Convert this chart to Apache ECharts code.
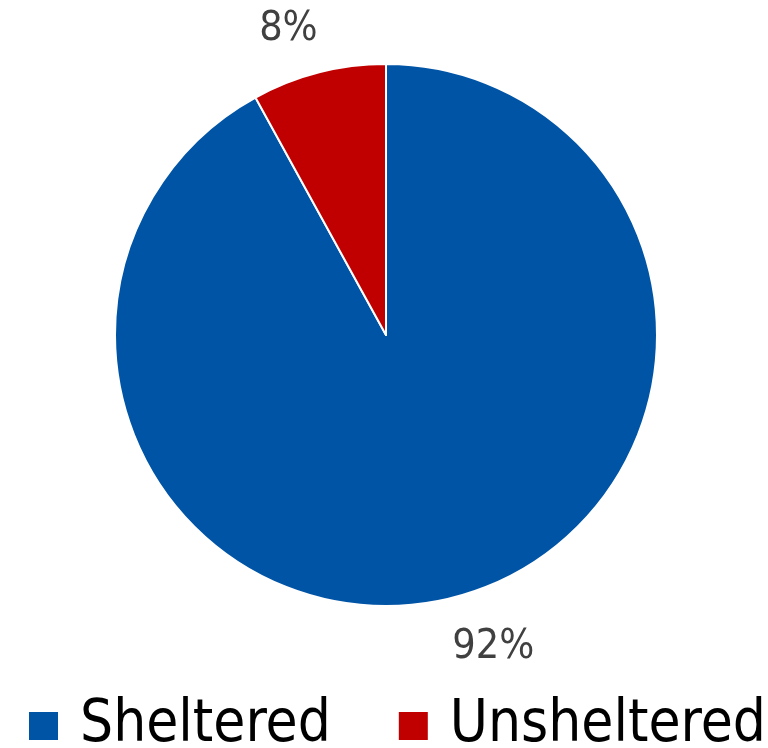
<!DOCTYPE html>
<html>
<head>
<meta charset="utf-8">
<script src="https://cdn.jsdelivr.net/npm/echarts@6/dist/echarts.min.js"></script>
<style>
  html, body { margin: 0; padding: 0; background: #fff; }
  #chart { width: 768px; height: 748px; }
</style>
</head>
<body>
<div id="chart"></div>
<script>
const categories = ["Sheltered", "Unsheltered"];
const shares = [92, 8];
const colors = ["#0054A6", "#C00000"];

const FONT = "'DejaVu Sans Condensed', 'DejaVu Sans', sans-serif";

const chart = echarts.init(document.getElementById("chart"));

const labelShift = { Sheltered: [-16, 11], Unsheltered: [14, -4] };

chart.setOption({
  animation: false,
  legend: {
    top: 697,
    left: 27,
    padding: 0,
    itemWidth: 31,
    itemHeight: 30,
    itemGap: 66,
    icon: "rect",
    textStyle: { fontSize: 58, color: "#000", fontFamily: FONT, padding: [0, 0, 0, 16] },
    data: categories,
  },
  series: [
    {
      type: "pie",
      center: [386, 335],
      radius: 271,
      startAngle: 90,
      clockwise: true,
      itemStyle: { borderColor: "#fff", borderWidth: 2 },
      label: {
        show: true,
        position: "outside",
        formatter: "{c}%",
        fontSize: 41,
        color: "#404040",
        fontFamily: FONT,
      },
      labelLine: { show: false, length: 40, length2: 0 },
      labelLayout: (params) => {
        const s = labelShift[categories[params.dataIndex]];
        return { dx: s[0], dy: s[1] };
      },
      data: categories.map((name, i) => ({
        name,
        value: shares[i],
        itemStyle: { color: colors[i] },
      })),
    },
  ],
});
</script>
</body>
</html>
